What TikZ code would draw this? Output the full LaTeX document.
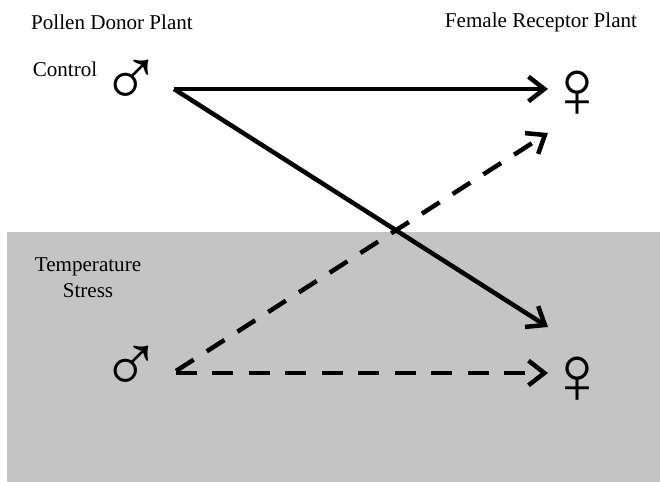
\documentclass[tikz,border=0pt]{standalone}
\usepackage{fontspec}
\setmainfont{Liberation Serif}
\usetikzlibrary{arrows.meta, positioning}
\definecolor{stressgray}{RGB}{196,196,196}

\begin{document}
\begin{tikzpicture}[x=0.02cm, y=-0.02cm]
        \tikzstyle{heading} = [font=\fontsize{12}{14}\selectfont, inner sep=0pt]
        \tikzstyle{sex} = [font=\fontsize{47}{47}\selectfont, inner sep=0pt]
        \tikzstyle{cross} = [line width=0.09cm, -{Straight Barb[length=9pt, width=14pt]}]
        \tikzstyle{stressed} = [cross, dash pattern=on 0.42cm off 0.31cm]

        \useasboundingbox (0,0) rectangle (660,482);
        \fill [stressgray] (7,232) rectangle (660,482);

        \node (donor) [heading] at (112,22) {Pollen Donor Plant};
        \node (receptor) [heading] at (541,22) {Female Receptor Plant};
        \node (control) [heading] at (65,69) {Control};
        \node (stress) [heading, align=center] at (88,278) {Temperature\\[1pt]Stress};

        \node (malectrl) [sex] at (131,83) {♂};
        \node (malestress) [sex] at (131,369) {♂};
        \node (femctrl) [sex] at (577,94) {♀};
        \node (femstress) [sex] at (577,380) {♀};

        % arrow ends
        \coordinate (ctrlout) at (174,89);
        \coordinate (stressout) at (176,371);
        \coordinate (femctrlin) at (548,89);
        \coordinate (femctrlin2) at (548,133);
        \coordinate (femstressin) at (548,327);
        \coordinate (femstressin2) at (548,373);

        \draw [cross] (ctrlout) -- (femctrlin);
        \draw [cross] (ctrlout) -- (femstressin);
        \draw [stressed] (stressout) -- (femctrlin2);
        \draw [stressed] (stressout |- femstressin2) -- (femstressin2);
    \end{tikzpicture}
\end{document}
